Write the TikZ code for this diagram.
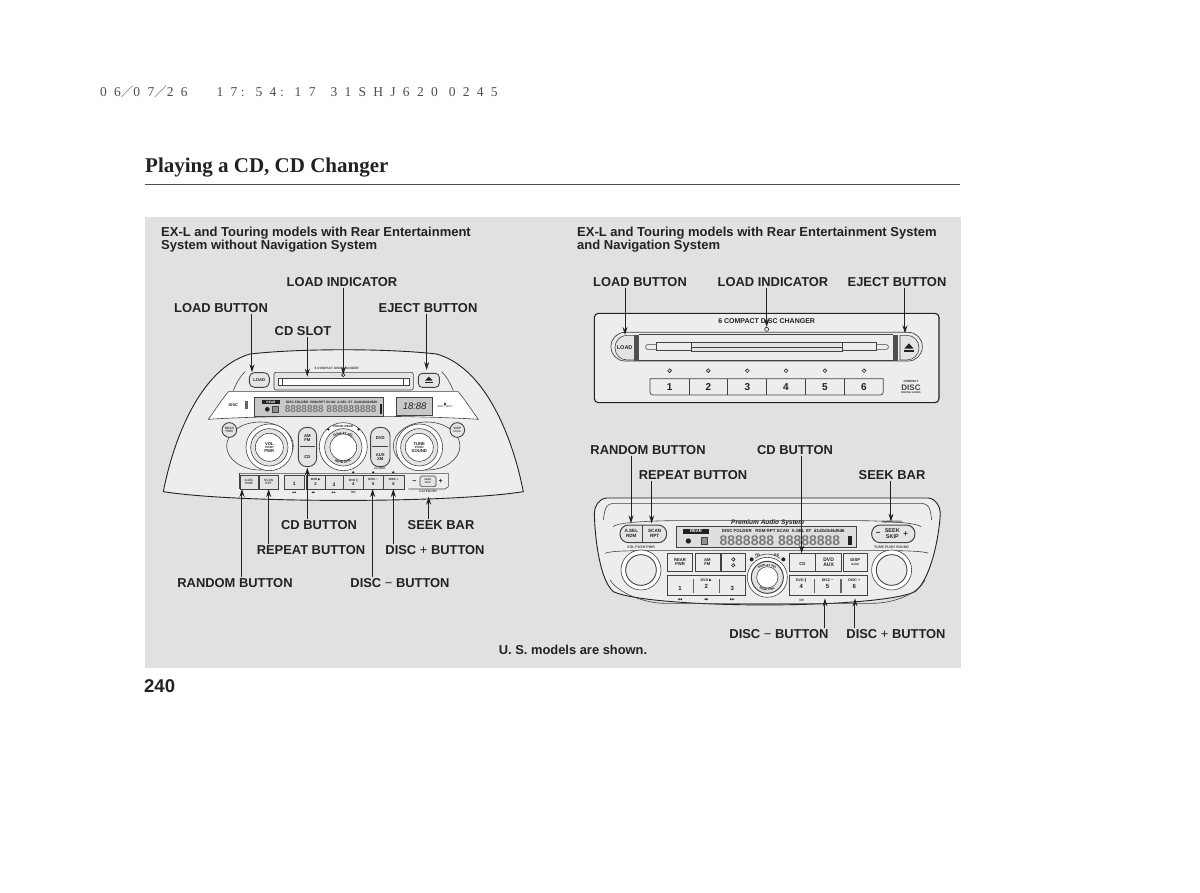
\documentclass[tikz,border=0pt]{standalone}
\usepackage{fontspec}
\setmainfont{Liberation Sans}
\newfontfamily\serifb{Liberation Serif}
\newfontfamily\stampf[LetterSpace=54]{Liberation Serif}
\newfontfamily\cjkf{Noto Sans CJK JP}
\newfontfamily\symf{DejaVu Sans}
\usetikzlibrary{arrows.meta,decorations.text}
\definecolor{panelgrey}{HTML}{E0E1E1}
\definecolor{ink}{HTML}{222222}
\definecolor{unitfill}{HTML}{EDEDED}
\definecolor{btnfill}{HTML}{E4E4E4}
\definecolor{lcd}{HTML}{C8C8C8}
\newcommand{\fs}[1]{\fontsize{#1}{#1}\selectfont}
\newcommand{\thinsym}[1]{{\mdseries #1}}
\newcommand{\stcolon}{\makebox[11pt]{:}\hspace{7.3pt}}
\tikzset{
 lbl/.style={font=\fs{12.9}\bfseries,text=ink,inner sep=1pt,outer sep=0pt},
 head/.style={font=\fs{13}\bfseries,text=ink,inner sep=0pt,anchor=north west,align=left},
 call/.style={draw=ink,line width=1pt,-{Stealth[length=8pt,width=5pt]}},
 unit/.style={draw=ink,line width=.9pt,fill=unitfill},
 part/.style={draw=ink!85,line width=.6pt},
 btn/.style={draw=ink!85,line width=.6pt,fill=btnfill},
 tx/.style={font=\fs{4.2}\bfseries,text=ink,inner sep=0pt,align=center},
 txs/.style={font=\fs{3.2}\bfseries,text=ink!85,inner sep=0pt,align=center},
 digit/.style={font=\fs{10}\bfseries,text=ink,inner sep=0pt},
 segs/.style={font=\fs{10}\bfseries,text=ink!60,inner sep=0pt},
 led/.style={draw=ink,line width=.6pt,fill=unitfill},
}
\begin{document}
\begin{tikzpicture}[x=1pt,y=-1pt]
\useasboundingbox (0,0) rectangle (1200,892);
\fill[white] (0,0) rectangle (1200,892);
\fill[panelgrey] (145,217) rectangle (961,668);
\draw[ink!80,line width=1pt] (145,184) -- (960,184);
% page texts
\node[anchor=base west,inner sep=0pt,font=\stampf\fs{13.5},text=ink!80] (stamp) at (100,96) {06{\cjkf\fs{12.5}／}07{\cjkf\fs{12.5}／}26\hspace{29pt}17\stcolon54\stcolon17\hspace{15pt}31SHJ620\hspace{11pt}0245};
\node[anchor=base west,inner sep=0pt,font=\serifb\fs{21}\bfseries,text=ink] (title) at (145,172) {Playing a CD, CD Changer};
\node[anchor=base west,inner sep=0pt,font=\fs{18.5}\bfseries,text=ink] (page) at (144,692) {240};
\node[head] (hl) at (161,227) {EX-L and Touring models with Rear Entertainment\\[-.5pt]System without Navigation System};
\node[head] (hr) at (577,227) {EX-L and Touring models with Rear Entertainment System\\[-.5pt]and Navigation System};
\node[lbl] (note) at (573,650) {U. S. models are shown.};

%% ---------- left unit ----------
\begin{scope}[shift={(150,340)},x=.3333pt,y=-.3333pt]
\draw[unit] (40,455) .. controls (70,300) and (150,85) .. (300,42) .. controls (450,25) and (710,25) .. (860,42) .. controls (1010,85) and (1090,300) .. (1120,455) .. controls (900,490) and (260,490) .. (40,455) -- cycle;
\draw[part,fill=white] (235,155) -- (925,155) .. controls (945,180) and (965,210) .. (985,238) .. controls (800,225) and (360,225) .. (175,238) .. controls (195,210) and (215,180) .. (235,155) -- cycle;
\draw[part] (250,152) .. controls (258,130) and (270,110) .. (285,95);
\draw[part] (910,152) .. controls (902,130) and (890,110) .. (875,95);
% slot
\draw[btn,rounded corners=2pt] (372,97) rectangle (790,150);
\draw[part,fill=white] (385,115) rectangle (778,135);
\draw[part] (398,115) -- (398,135) (760,115) -- (760,135);
\node[txs] (lchg) at (560,84) {6 COMPACT DISC CHANGER};
\draw[led] (580,105) circle (5);
\draw[btn,line width=.9pt,rounded corners=5pt] (298,98) rectangle (358,142);
\node[tx] (lload) at (328,120) {LOAD};
\draw[btn,line width=.9pt,rounded corners=4pt] (805,100) rectangle (868,142);
\fill[ink] (825,122) -- (848,122) -- (836.5,110) -- cycle;
\fill[ink] (825,126) rectangle (848,130);
% display
\draw[part,fill=lcd] (312,172) rectangle (700,228);
\fill[ink] (337,180) rectangle (390,193);
\node[txs,text=white] (lrear) at (363,187) {REAR};
\node[font=\fs{3.3}\bfseries,text=ink,inner sep=0pt] (lrow) at (545,186) {DISC FOLDER \ RDM RPT SCAN \ A.SEL ST \ d1d2d3d4d5d6};
\node[segs] (lseg) at (542,208) {8888888 888888888};
\fill[ink] (352,208) circle (7);
\draw[part,fill=ink!50] (368,200) rectangle (385,218);
\fill[ink] (690,192) rectangle (696,222);
\draw[part,fill=lcd] (740,172) rectangle (848,225);
\node[font=\fs{9.5}\itshape,text=ink,inner sep=0pt] (lclock) at (794,199) {18:88};
\node[font=\fs{4}\bfseries,text=ink,inner sep=0pt,align=center] (llogo) at (250,196) {DISC};
\fill[ink!70] (285,183) rectangle (295,206);
\draw[led] (885,192) circle (3);
\node[font=\fs{2.6},text=ink,inner sep=0pt] (lanti) at (885,201) {ANTI-THEFT};
% knob surrounds
\draw[part] (330,318) ellipse (100 and 72);
\draw[part] (830,318) ellipse (100 and 72);
\foreach \c in {358,808} {
 \draw[part,fill=white] (\c,322) circle (70);
 \draw[part,fill=btnfill] (\c,322) circle (56);
 \draw[part,fill=white] (\c,322) circle (42);
}
\node[tx] (lvol) at (358,322) {VOL\\[-.5pt]{\fs{3}PUSH}\\[-.5pt]PWR};
\node[tx] (ltune) at (808,322) {TUNE\\[-.5pt]{\fs{3}PUSH}\\[-.5pt]SOUND};
\draw[btn,line width=.9pt] (238,270) circle (22);
\node[txs] (lrp) at (238,270) {REAR\\PWR};
\draw[btn,line width=.9pt] (922,270) circle (22);
\node[txs] (ldp) at (922,270) {DISP\\{\fs{2.4}MODE}};
% pills
\draw[btn,line width=.9pt,rounded corners=8.5pt] (445,262) rectangle (500,380);
\draw[part] (450,320) -- (495,320);
\draw[btn,line width=.9pt,rounded corners=8.5pt] (662,262) rectangle (720,380);
\draw[part] (667,320) -- (715,320);
\node[tx] (lam) at (472,293) {AM\\FM};
\node[tx] (lcd) at (472,350) {CD};
\node[tx] (ldvd) at (691,293) {DVD};
\node[tx] (laux) at (691,350) {AUX\\XM};
% centre knob
\draw[part,fill=white] (580,320) circle (72);
\draw[part,fill=btnfill] (580,322) circle (56);
\draw[part,fill=white] (580,322) circle (40);
\node[font=\fs{3}\bfseries,text=ink,inner sep=0pt] (lfr) at (580,258) {FRONT-REAR};
\fill[ink] (535,268) circle (4) (626,268) circle (4);
\path[postaction={decorate,decoration={text along path,text align=center,text={|\fs{3}\bfseries|DISPLAY SEL}}}] (532,312) .. controls (545,275) and (615,275) .. (628,312);
\path[postaction={decorate,decoration={text along path,text align=center,text={|\fs{3}\bfseries|REAR CTRL}}}] (537,345) .. controls (555,378) and (605,378) .. (623,345);
\node[txs] (lclk) at (690,385) {CLOCK};
% preset row
\draw[part] (268,400) -- (895,400) (895,400) -- (895,440) -- (885,447) -- (775,447);
\draw[part] (268,400) -- (268,445) -- (385,445);
\foreach \a/\b in {270/325,328/385,403/463,470/525,525/580,580/640,640/700,700/762} {
 \draw[btn] (\a,405) rectangle (\b,447);
}
\draw[btn,rounded corners=1.5pt] (810,408) rectangle (858,440);
\node[txs] (la) at (297,425) {A.SEL\\RDM};
\node[txs] (lb) at (356,425) {SCAN\\RPT};
\node[digit,font=\fs{5}\bfseries] (l1) at (433,432) {1};
\node[tx] (l2) at (497,426) {{\fs{3}DVD {\symf▶}}\\2};
\node[digit,font=\fs{5}\bfseries] (l3) at (552,434) {3};
\node[tx] (l4) at (610,426) {{\fs{3}DVD {\symf∥}}\\4};
\node[tx] (l5) at (670,426) {{\fs{3}DISC −}\\5};
\node[tx] (l6) at (731,426) {{\fs{3}DISC +}\\6};
\node[tx,font=\fs{7}\bfseries] (lm) at (793,425) {−};
\node[tx,font=\fs{7}\bfseries] (lp) at (872,425) {+};
\node[txs,font=\fs{2.6}\bfseries] (ls) at (834,424) {SEEK\\SKIP};
\node[txs] (lcat) at (835,455) {CATEGORY};
\foreach \x/\s in {432/◀◀,490/◀▶,552/▶▶} \node[font=\symf\fs{2.6},text=ink,inner sep=0pt] (lm\x) at (\x,458) {\s};
\node[txs] (lnr) at (610,458) {NR};
\draw[led] (610,397) circle (2.5);
\draw[led] (670,397) circle (2.5);
\draw[led] (730,397) circle (2.5);
\coordinate (tLload) at (306,97);
\coordinate (tLslot) at (472,110);
\coordinate (tLled) at (580,104);
\coordinate (tLej) at (830,90);
\coordinate (tLrand) at (276,447);
\coordinate (tLrep) at (356,447);
\coordinate (tLcd) at (472,383);
\coordinate (tLdm) at (668,447);
\coordinate (tLdp) at (730,447);
\coordinate (tLseek) at (836,470);
\end{scope}

%% ---------- right top unit ----------
\begin{scope}[shift={(585,300)},x=.3333pt,y=-.3333pt]
\draw[unit,line width=1.1pt,rounded corners=4pt] (28,40) rectangle (1062,308);
\node[font=\fs{7}\bfseries,text=ink,inner sep=0pt] (rchg) at (545,62) {6 COMPACT DISC CHANGER};
\draw[part,line width=.7pt,rounded corners=14pt] (78,97) rectangle (1012,183);
\draw[btn] (148,106) {[rounded corners=12pt] -- (90,106) -- (90,180)} -- (148,180) -- cycle;
\fill[ink!80] (147,104) rectangle (162,182);
\node[font=\fs{5.5}\bfseries,text=ink,inner sep=0pt] (rload) at (119,144) {LOAD};
\draw[btn] (945,106) {[rounded corners=12pt] -- (1002,106) -- (1002,180)} -- (945,180) -- cycle;
\fill[ink!80] (925,104) rectangle (940,182);
\fill[ink] (958,146) -- (986,146) -- (972,130) -- cycle;
\fill[ink] (958,150) rectangle (986,156);
\draw[part] (162,104) -- (925,104) (162,182) -- (925,182);
\draw[part,rounded corners=2pt] (182,134) rectangle (910,148);
\draw[part,fill=unitfill] (215,128) rectangle (875,152);
\draw[part,fill=btnfill] (320,128) rectangle (772,155);
\draw[part] (320,142) -- (772,142);
\draw[led] (545,88) circle (6);
\foreach \x/\d in {254/1,370/2,487/3,603/4,720/5,837/6} {
 \draw[led] (\x,212) circle (5.5);
 \node[digit] (rd\d) at (\x,260) {\d};
}
\draw[part,line width=.7pt] (195,236) {[rounded corners=3pt] -- (195,285) -- (895,285)} -- (895,236) -- cycle;
\foreach \x in {312,428,545,662,778} \draw[part,line width=.7pt] (\x,236) -- (\x,285);
\node[font=\fs{3}\bfseries,text=ink,inner sep=0pt] (rcomp) at (978,245) {COMPACT};
\node[font=\fs{8}\bfseries,text=ink!85,inner sep=0pt] (rdisc) at (978,262) {DISC};
\node[font=\fs{2.6}\bfseries,text=ink,inner sep=0pt] (raud) at (978,279) {DIGITAL AUDIO};
\coordinate (tRload) at (120,105);
\coordinate (tRled) at (545,81);
\coordinate (tRej) at (960,100);
\end{scope}

%% ---------- right bottom unit ----------
\begin{scope}[shift={(585,490)},x=.3333pt,y=-.3333pt]
\draw[unit] (65,24) .. controls (42,26) and (28,48) .. (28,70) .. controls (30,150) and (45,270) .. (85,305) .. controls (200,358) and (880,358) .. (990,305) .. controls (1035,270) and (1062,150) .. (1066,70) .. controls (1066,48) and (1052,26) .. (1030,24) -- cycle;
\draw[part] (55,90) .. controls (60,50) and (65,42) .. (85,40) -- (1010,40) .. controls (1030,42) and (1036,50) .. (1040,90);
\draw[part] (85,110) .. controls (95,95) and (230,92) .. (270,92) -- (820,92) .. controls (860,92) and (990,95) .. (1008,110);
\draw[part] (60,190) .. controls (80,180) and (200,182) .. (240,182) -- (850,182) .. controls (890,182) and (1010,180) .. (1030,190);
\draw[part] (75,270) .. controls (100,310) and (180,340) .. (240,340) -- (860,340) .. controls (930,340) and (1000,310) .. (1020,270);
% pills
\draw[btn,line width=1pt,rounded corners=8.5pt] (105,105) rectangle (245,158);
\draw[part] (172,105) -- (172,158);
\node[tx,font=\fs{4.6}\bfseries] (bsel) at (139,131) {A.SEL\\RDM};
\node[tx,font=\fs{4.6}\bfseries] (bscn) at (209,131) {SCAN\\RPT};
\draw[btn,line width=1pt,rounded corners=8.5pt] (860,105) rectangle (990,158);
\node[tx,font=\fs{5.5}\bfseries] (bseek) at (922,131) {SEEK\\SKIP};
\node[tx,font=\fs{8}\bfseries] (bm) at (880,131) {−};
\node[tx,font=\fs{8}\bfseries] (bp) at (962,131) {+};
\node[txs,font=\fs{3.6}\bfseries] (bcat) at (922,98) {CATEGORY};
\node[font=\fs{6.5}\bfseries\itshape,text=ink,inner sep=0pt] (bprem) at (548,99) {Premium Audio System};
% LCD
\draw[part,fill=lcd!60] (275,108) rectangle (815,172);
\fill[ink] (295,116) rectangle (372,132);
\node[tx,text=white] (brear) at (333,124) {REAR};
\node[font=\fs{4.4}\bfseries,text=ink,inner sep=0pt] (brow) at (595,124) {DISC FOLDER \; RDM RPT SCAN \ A.SEL ST \ d1d2d3d4d5d6};
\node[segs,font=\fs{14}\bfseries] (bsegs) at (585,152) {8888888 88888888};
\fill[ink] (790,138) rectangle (800,165);
\fill[ink] (310,153) circle (8);
\draw[part,fill=ink!50] (350,142) rectangle (368,162);
\node[txs,font=\fs{3.6}\bfseries] (bvol) at (168,173) {VOL PUSH PWR};
\node[txs,font=\fs{3.6}\bfseries] (btun) at (920,173) {TUNE PUSH SOUND};
\foreach \c in {168,920} {
 \draw[part,fill=white] (\c,240) circle (60);
 \draw[part,fill=unitfill,line width=.9pt] (\c,240) circle (46);
}
% top row
\foreach \a/\b in {248/322,330/405,410/480,612/692,692/770,775/848} \draw[part] (\a,190) rectangle (\b,245);
\node[tx] (brp) at (285,217) {REAR\\PWR};
\node[tx] (bam) at (367,217) {AM\\FM};
\draw[ink,line width=.6pt] (445,208) circle (5) (445,226) circle (5);
\node[tx] (bcd) at (652,222) {CD};
\node[tx,font=\fs{5}\bfseries] (bdvd) at (731,217) {DVD\\AUX};
\node[tx] (bdsp) at (811,215) {DISP\\{\fs{2.6}MODE}};
% lower row
\draw[part] (248,255) -- (248,315) -- (482,315) -- (482,255) -- cycle;
\draw[part] (612,255) -- (612,315) -- (848,315) -- (848,255) -- cycle;
\foreach \x in {325,403,688,768} \draw[ink!70,line width=1.2pt] (\x,268) -- (\x,310);
\node[digit,font=\fs{6}\bfseries] (b1) at (285,295) {1};
\node[tx,font=\fs{6}\bfseries] (b2) at (364,282) {{\fs{3.6}DVD {\symf▶}}\\[1pt]2};
\node[digit,font=\fs{6}\bfseries] (b3) at (442,295) {3};
\node[tx,font=\fs{6}\bfseries] (b4) at (649,282) {{\fs{3.6}DVD {\symf∥}}\\[1pt]4};
\node[tx,font=\fs{6}\bfseries] (b5) at (728,282) {{\fs{3.6}DISC −}\\[1pt]5};
\node[tx,font=\fs{6}\bfseries] (b6) at (808,282) {{\fs{3.6}DISC +}\\[1pt]6};
\foreach \x/\s in {285/◀◀,364/◀▶,442/▶▶} \node[font=\symf\fs{3},text=ink,inner sep=0pt] (bm\x) at (\x,330) {\s};
\node[txs] (bnr) at (650,330) {NR};
% centre knob
\draw[part] (510,205) .. controls (530,188) and (565,188) .. (585,205);
\draw[part,fill=white] (547,262) circle (60);
\draw[part,fill=btnfill,line width=1pt] (547,262) circle (48);
\draw[part,fill=white] (547,262) circle (32);
\node[font=\fs{3.6}\bfseries,text=ink,inner sep=0pt] (bfr) at (518,197) {FR};
\node[font=\fs{3.6}\bfseries,text=ink,inner sep=0pt] (brs) at (575,197) {RS};
\fill[ink] (500,208) circle (6) (595,208) circle (6);
\path[postaction={decorate,decoration={text along path,text align=center,text={|\fs{2.8}\bfseries|DISPLAY SEL}}}] (508,250) .. controls (520,222) and (574,222) .. (586,250);
\path[postaction={decorate,decoration={text along path,text align=center,text={|\fs{2.8}\bfseries|REAR CTRL}}}] (510,285) .. controls (525,308) and (569,308) .. (584,285);
\coordinate (tBrand) at (138,100);
\coordinate (tBrep) at (200,100);
\coordinate (tBcd) at (650,190);
\coordinate (tBseek) at (918,95);
\coordinate (tBdm) at (720,325);
\coordinate (tBdp) at (810,325);
\end{scope}

%% ---------- callouts ----------
\node[lbl] (a1) at (342,282) {LOAD INDICATOR};
\node[lbl] (a2) at (221,308) {LOAD BUTTON};
\node[lbl] (a3) at (428,308) {EJECT BUTTON};
\node[lbl] (a4) at (303,331) {CD SLOT};
\node[lbl] (a5) at (319,525) {CD BUTTON};
\node[lbl] (a6) at (441,525) {SEEK BAR};
\node[lbl] (a7) at (311,550) {REPEAT BUTTON};
\node[lbl] (a8) at (435,550) {DISC \thinsym{+} BUTTON};
\node[lbl] (a9) at (235,583) {RANDOM BUTTON};
\node[lbl] (a10) at (400,583) {DISC \thinsym{−} BUTTON};
\node[lbl] (b1l) at (640,282) {LOAD BUTTON};
\node[lbl] (b2l) at (773,282) {LOAD INDICATOR};
\node[lbl] (b3l) at (897,282) {EJECT BUTTON};
\node[lbl] (c1) at (648,450) {RANDOM BUTTON};
\node[lbl] (c2) at (795,450) {CD BUTTON};
\node[lbl] (c3) at (693,475) {REPEAT BUTTON};
\node[lbl] (c4) at (892,475) {SEEK BAR};
\node[lbl] (c5) at (779,634) {DISC \thinsym{−} BUTTON};
\node[lbl] (c6) at (896,634) {DISC \thinsym{+} BUTTON};

\draw[call] (a2.south -| tLload) -- (tLload);
\draw[call] (a4.south -| tLslot) -- (tLslot);
\draw[call] (a1.south -| tLled) -- (tLled);
\draw[call] (a3.south -| tLej) -- (tLej);
\draw[call] (a9.north -| tLrand) -- (tLrand);
\draw[call] (a7.north -| tLrep) -- (tLrep);
\draw[call] (a5.north -| tLcd) -- (tLcd);
\draw[call] (a10.north -| tLdm) -- (tLdm);
\draw[call] (a8.north -| tLdp) -- (tLdp);
\draw[call] (a6.north -| tLseek) -- (tLseek);
\draw[call] (b1l.south -| tRload) -- (tRload);
\draw[call] (b2l.south -| tRled) -- (tRled);
\draw[call] (b3l.south -| tRej) -- (tRej);
\draw[call] (c1.south -| tBrand) -- (tBrand);
\draw[call] (c3.south -| tBrep) -- (tBrep);
\draw[call] (c2.south -| tBcd) -- (tBcd);
\draw[call] (c4.south -| tBseek) -- (tBseek);
\draw[call] (c5.north -| tBdm) -- (tBdm);
\draw[call] (c6.north -| tBdp) -- (tBdp);
\end{tikzpicture}
\end{document}
